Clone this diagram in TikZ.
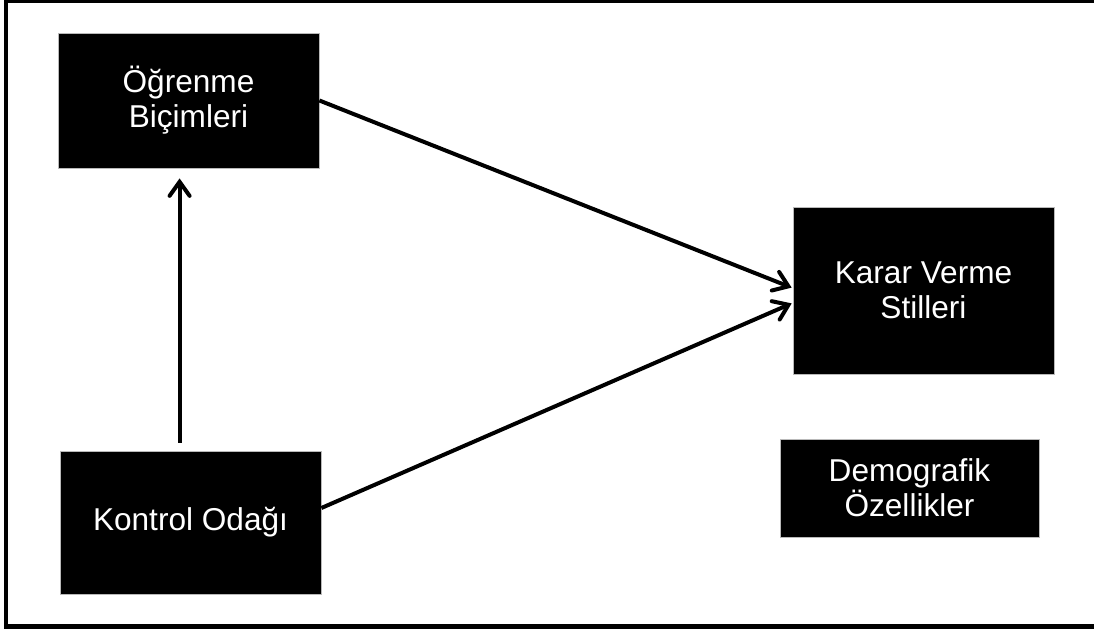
\documentclass[tikz,border=0pt]{standalone}
\usepackage{fontspec}
\setmainfont{Liberation Sans}
\usetikzlibrary{arrows.meta}
\tikzset{
  box/.style={rectangle, fill=black, draw=gray!55, line width=0.4pt,
    text=white, align=center, inner sep=0pt,
    font=\fontsize{15.8pt}{17.5pt}\selectfont},
  arr/.style={line width=2pt, -{Straight Barb[length=7pt, width=10pt, line cap=round]}},
  frameline/.style={black, line cap=rect}
}
\begin{document}
\begin{tikzpicture}[x=0.5pt, y=-0.5pt]
  \useasboundingbox (0,0) rectangle (1094,630);

  % outer frame (open on the right)
  \draw[frameline, line width=1.5pt] (1094,1.5) -- (6,1.5);
  \draw[frameline, line width=2pt] (6,1.5) -- (6,626.5);
  \draw[frameline, line width=2.5pt] (6,626.5) -- (1094,626.5);

  % blocks
  \node[box, minimum width=130.5pt, minimum height=67.5pt] (ob) at (188.5,100.5) {Öğrenme\\Biçimleri};
  \node[box, minimum width=130.5pt, minimum height=71.5pt] (ko) at (190.5,522.5) {Kontrol Odağı};
  \node[box, minimum width=130.5pt, minimum height=83.5pt] (ka) at (923.5,290.5) {Karar Verme\\Stilleri};
  \node[box, minimum width=129.5pt, minimum height=49pt] (de) at (909.5,488) {Demografik\\Özellikler};

  % relations
  \draw[arr, shorten <=4pt, shorten >=5pt]
    ([xshift=60pt]ko.north west) -- ([xshift=60pt]ko.north west |- ob.south);
  \draw[arr, shorten >=0.5pt] (ob.east) -- ([yshift=1.25pt]ka.west);
  \draw[arr, shorten >=0.5pt] ([yshift=7.25pt]ko.east) -- ([yshift=-6.25pt]ka.west);
\end{tikzpicture}
\end{document}
